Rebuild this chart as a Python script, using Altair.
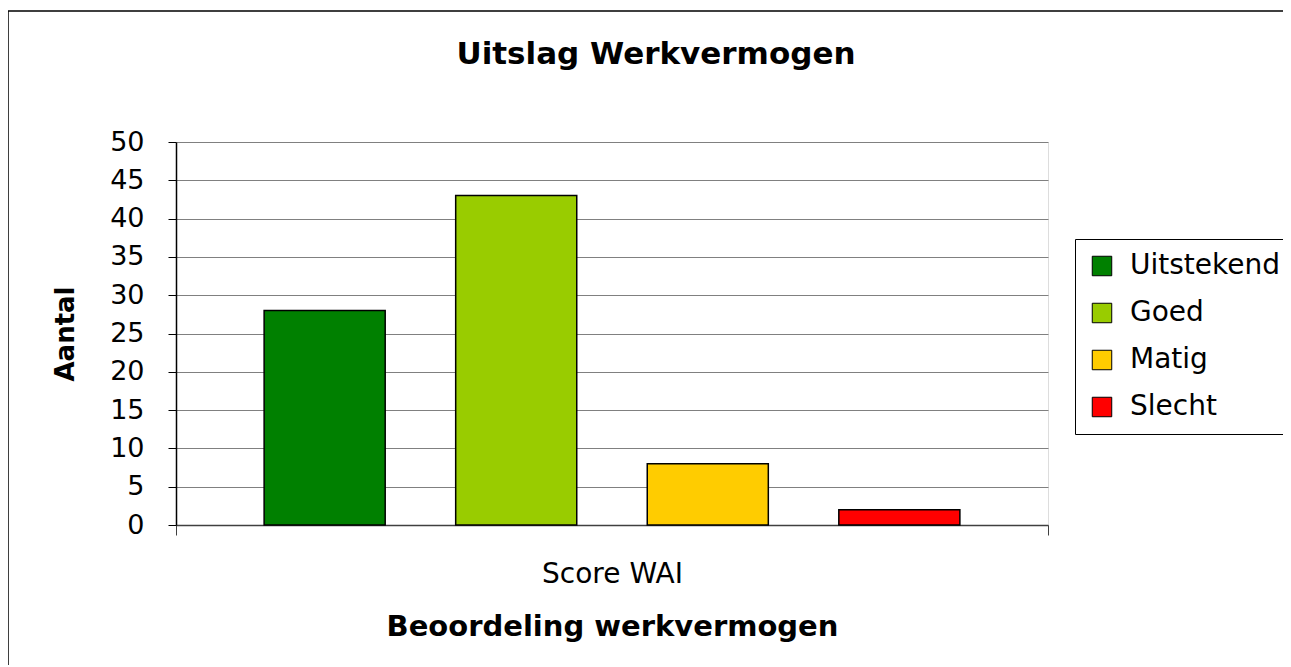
import altair as alt
import pandas as pd

# data
categories = ["Uitstekend", "Goed", "Matig", "Slecht"]
values = [28, 43, 8, 2]
group_label = ["Score WAI", "Score WAI", "Score WAI", "Score WAI"]
colors = ["#008000", "#99CC00", "#FFCC00", "#FF0000"]
y_ticks = [0, 5, 10, 15, 20, 25, 30, 35, 40, 45, 50]

df = pd.DataFrame({"groep": group_label, "reeks": categories, "aantal": values})

FONT = "DejaVu Sans"

frame = alt.Chart(pd.DataFrame({"k": [0]})).mark_rect(
    fill=None, stroke="black", strokeWidth=1.5
).encode(
    x=alt.value(-168), x2=alt.value(1200), y=alt.value(-131), y2=alt.value(700)
)

bars = alt.Chart(df).mark_bar(stroke="black", strokeWidth=1.5).encode(
    x=alt.X(
        "groep:N",
        scale=alt.Scale(paddingInner=0, paddingOuter=0),
        axis=alt.Axis(
            title="Beoordeling werkvermogen",
            labelAngle=0,
            labelFont=FONT,
            labelFontSize=28,
            labelColor="black",
            labelPadding=25,
            tickBand="extent",
            tickSize=10,
            tickColor="#404040",
            domainColor="#404040",
            domainWidth=1.5,
            titleFont=FONT,
            titleFontSize=29,
            titleFontWeight="bold",
            titleColor="black",
            titlePadding=24,
        ),
    ),
    xOffset=alt.XOffset(
        "reeks:N",
        sort=categories,
        scale=alt.Scale(paddingInner=0.368, paddingOuter=0.46),
    ),
    y=alt.Y(
        "aantal:Q",
        scale=alt.Scale(domain=[0, 50], nice=False),
        axis=alt.Axis(
            title="Aantal",
            values=y_ticks,
            labelFont=FONT,
            labelFontSize=27,
            labelColor="black",
            labelPadding=24,
            tickSize=8,
            tickColor="black",
            domainColor="black",
            domainWidth=1.5,
            gridColor="#808080",
            gridWidth=1,
            titleFont=FONT,
            titleFontSize=26,
            titleFontWeight="bold",
            titleColor="black",
            titlePadding=31,
        ),
    ),
    color=alt.Color(
        "reeks:N",
        sort=categories,
        scale=alt.Scale(domain=categories, range=colors),
        legend=alt.Legend(
            title=None,
            orient="none",
            legendX=899,
            legendY=97,
            strokeColor="black",
            fillColor="white",
            padding=13,
            symbolType="square",
            symbolSize=380,
            symbolStrokeColor="black",
            symbolStrokeWidth=1,
            labelFont=FONT,
            labelFontSize=28,
            labelColor="black",
            labelOffset=14,
            rowPadding=19,
        ),
    ),
)

chart = alt.layer(frame, bars).properties(
    width=872,
    height=383,
    autosize=alt.AutoSizeParams(type="none"),
    padding={"left": 168, "top": 134, "right": 235, "bottom": 140},
    title=alt.TitleParams(
        "Uitslag Werkvermogen",
        font=FONT,
        fontSize=31,
        fontWeight="bold",
        color="black",
        anchor="middle",
        frame="group",
        baseline="alphabetic",
        dx=44,
        dy=85,
        offset=0,
    ),
).configure_view(stroke="#808080", strokeWidth=1).configure(background="white")

chart.save("out.html", embed_options={"renderer": "svg", "actions": False})
